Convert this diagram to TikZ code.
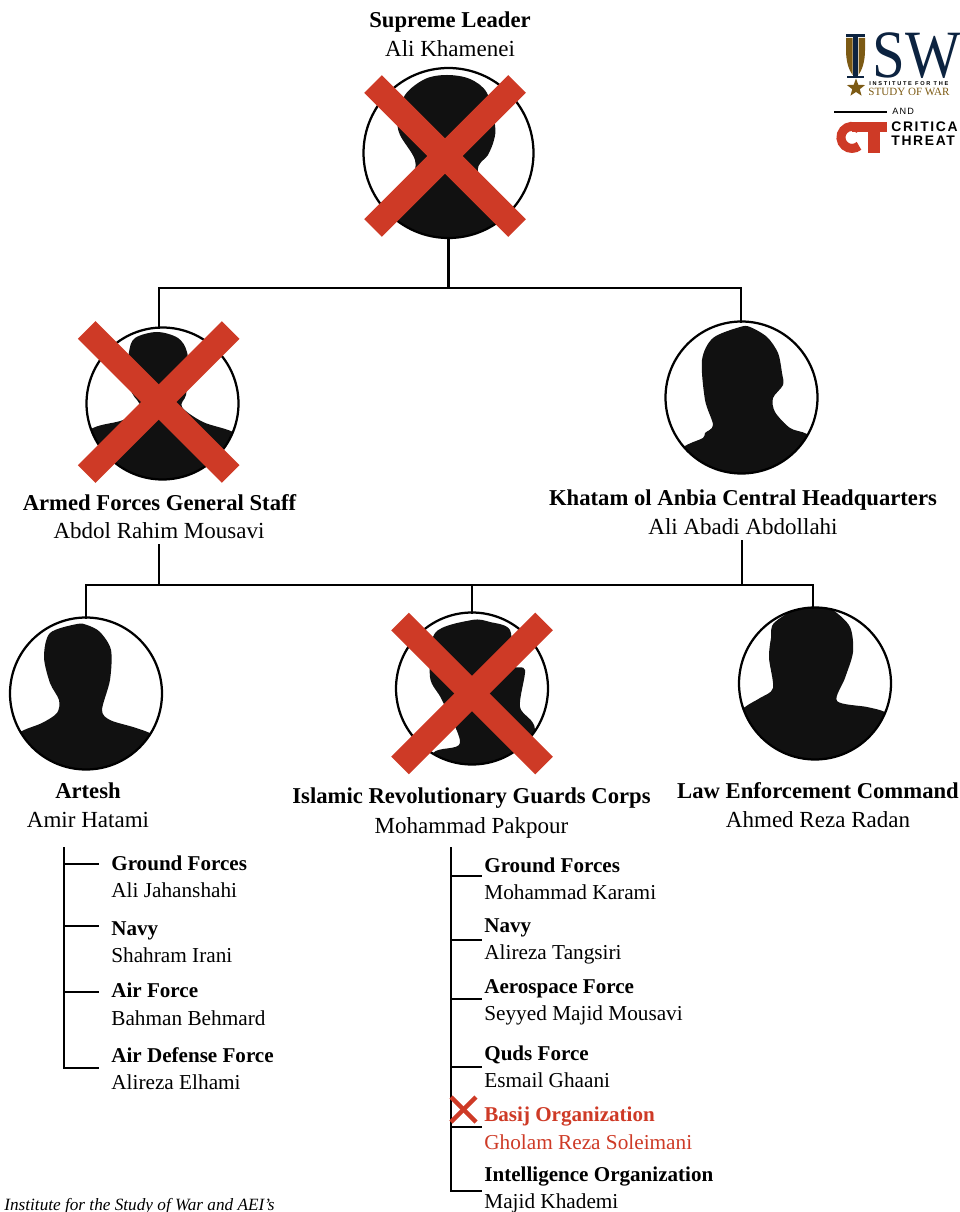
\documentclass[tikz,border=0pt]{standalone}
\usepackage{fontspec}
\usepackage{graphicx}
\setmainfont{Liberation Serif}
\newfontfamily\logosans[LetterSpace=12]{Liberation Sans}
\newfontfamily\logowide[LetterSpace=30]{Liberation Sans}
\usetikzlibrary{shapes.geometric}
\definecolor{crossred}{HTML}{CE3A26}
\definecolor{shadow}{HTML}{111111}
\definecolor{iswnavy}{HTML}{0C2340}
\definecolor{iswbrown}{HTML}{7C5A14}
\tikzset{
  portrait/.style={circle,draw=black,line width=0.045cm,minimum size=3.04cm,inner sep=0pt,outer sep=0pt},
  head/.style={font=\fontsize{12.9}{15}\selectfont\bfseries,anchor=base,inner sep=0pt},
  who/.style={font=\fontsize{13.1}{16}\selectfont,anchor=base,inner sep=0pt},
  subhead/.style={font=\fontsize{12}{15}\selectfont\bfseries,anchor=base west,inner sep=0pt},
  subwho/.style={font=\fontsize{12.1}{15}\selectfont,anchor=base west,inner sep=0pt},
  link/.style={line width=0.05cm,line cap=rect},
  redcross/.style={crossred,line width=0.5cm},
  logotext/.style={anchor=base west,inner sep=0pt}
}
\begin{document}
\begin{tikzpicture}[x=0.02cm,y=-0.02cm]
  \useasboundingbox (0,0) rectangle (959,1212);
  % Siluetas
  \begin{scope}
    \clip (448.5,153) circle (85);
    \fill[shadow] plot[smooth cycle,tension=0.55] coordinates {(447,75) (470,79) (487,93) (495,125) (494,140) (488,155) (478,172) (497,223) (515,260) (380,260) (398,220) (412,180) (415,160) (400,135) (398,120) (405,95) (425,79)};
  \end{scope}
  \begin{scope}
    \clip (162.5,403.5) circle (75.5);
    \fill[shadow] plot[smooth cycle,tension=0.55] coordinates {(157,332) (135,338) (129,352) (128,375) (132,393) (140,407) (123,420) (93,428) (60,450) (160,500) (260,450) (233,432) (203,422) (182,407) (186,395) (188,375) (187,352) (178,338)};
  \end{scope}
  \begin{scope}
    \clip (741.5,397.5) circle (75.5);
    \fill[shadow] plot[smooth cycle,tension=0.5] coordinates {(740,327) (713,338) (702,360) (705,400) (713,425) (705,433) (703,438) (685,446) (660,465) (740,500) (830,450) (807,434) (790,428) (775,412) (773,398) (783,385) (782,373) (778,353) (767,337) (750,327)};
  \end{scope}
  \begin{scope}
    \clip (86,693.5) circle (75.5);
    \fill[shadow] plot[smooth cycle,tension=0.5] coordinates {(77,624) (50,633) (44,657) (50,683) (59,700) (57,713) (42,723) (22,731) (0,745) (86,800) (175,745) (150,733) (133,727) (110,720) (102,710) (110,680) (111,650) (100,632) (87,625)};
  \end{scope}
  \begin{scope}
    \clip (815,683.5) circle (75.5);
    \fill[shadow] plot[smooth cycle,tension=0.5] coordinates {(813,600) (775,622) (771,638) (769,658) (773,688) (760,698) (745,707) (725,725) (815,790) (905,725) (885,712) (867,707) (837,701) (845,678) (853,652) (850,627) (833,610)};
  \end{scope}
  \begin{scope}
    \clip (472,688.5) circle (75.5);
    \fill[shadow] plot[smooth cycle,tension=0.5] coordinates {(472,620) (435,633) (430,677) (442,700) (460,743) (433,753) (420,790) (520,790) (535,730) (520,707) (525,670) (513,665) (510,630) (490,622)};
  \end{scope}
  % Retratos
  \node[portrait,minimum size=3.4cm] (leader) at (448.5,153) {};
  \node[portrait] (staff) at (162.5,403.5) {};
  \node[portrait] (khatam) at (741.5,397.5) {};
  \node[portrait] (artesh) at (86,693.5) {};
  \node[portrait] (irgc) at (472,688.5) {};
  \node[portrait] (police) at (815,683.5) {};
  % Cargos y nombres
  \node[head] (leaderhead) at (450,28) {Supreme Leader};
  \node[who] (leaderwho) at (450,57) {Ali Khamenei};
  \node[head] (staffhead) at (159.5,510) {Armed Forces General Staff};
  \node[who] (staffwho) at (159,538) {Abdol Rahim Mousavi};
  \node[head] (khatamhead) at (743,505) {Khatam ol Anbia Central Headquarters};
  \node[who] (khatamwho) at (743,534) {Ali Abadi Abdollahi};
  \node[head] (arteshhead) at (88,798) {Artesh};
  \node[who] (arteshwho) at (88,827) {Amir Hatami};
  \node[head] (irgchead) at (471.5,803) {Islamic Revolutionary Guards Corps};
  \node[who] (irgcwho) at (471.5,833) {Mohammad Pakpour};
  \node[head] (policehead) at (818,798) {Law Enforcement Command};
  \node[who] (policewho) at (818,827) {Ahmed Reza Radan};
  % Conectores
  \coordinate (upperbus) at (448.5,288);
  \coordinate (lowerbus) at (472,585);
  \coordinate (stafftap) at (159,328);
  \coordinate (staffout) at (159,545);
  \coordinate (khatamtap) at (741,322);
  \coordinate (khatamout) at (742,541);
  \coordinate (arteshtap) at (86,618);
  \coordinate (policetap) at (813,608);
  \draw[link] (leader.south) -- (upperbus);
  \draw[link] (stafftap) |- (upperbus) -| (khatamtap);
  \draw[link] (staffout) -- (staffout |- lowerbus);
  \draw[link] (khatamout) -- (khatamout |- lowerbus);
  \draw[link] (arteshtap) |- (lowerbus) -| (policetap);
  \draw[link] (irgc.north) -- (lowerbus);
  % Cruces
  \foreach \cx/\cy in {445/156,158.7/402,472/693.5}{
    \draw[redcross] (\cx-72,\cy-72) -- (\cx+72,\cy+72);
    \draw[redcross] (\cx+72,\cy-72) -- (\cx-72,\cy+72);
  }
  % Artesh
  \coordinate (arteshspine) at (64,848);
  \draw[link] (arteshspine) -- (64,1068);
  \foreach \y in {864,926,992,1068}{
    \coordinate (arteshtick\y) at (98,\y);
    \draw[link] (arteshspine |- arteshtick\y) -- (arteshtick\y);
  }
  \foreach \i/\ya/\yb/\ta/\tb in {1/870/897/Ground Forces/Ali Jahanshahi,2/935/962/Navy/Shahram Irani,3/997/1025/Air Force/Bahman Behmard,4/1062/1089/Air Defense Force/Alireza Elhami}{
    \node[subhead] (arteshhead\i) at (111,\ya) {\ta};
    \node[subwho] (arteshwho\i) at (111,\yb) {\tb};
  }
  % Guardia
  \coordinate (irgcspine) at (451,848);
  \draw[link] (irgcspine) -- (451,1191);
  \foreach \y in {876,940,999,1067,1127,1191}{
    \coordinate (irgctick\y) at (481,\y);
    \draw[link] (irgcspine |- irgctick\y) -- (irgctick\y);
  }
  \foreach \i/\ya/\yb/\ta/\tb/\c in {1/872/899/Ground Forces/Mohammad Karami/black,2/932/959/Navy/Alireza Tangsiri/black,3/993/1020/Aerospace Force/Seyyed Majid Mousavi/black,4/1060/1087/Quds Force/Esmail Ghaani/black,5/1121/1149/Basij Organization/Gholam Reza Soleimani/crossred,6/1181/1208/Intelligence Organization/Majid Khademi/black}{
    \node[subhead,text=\c] (irgchead\i) at (484,\ya) {\ta};
    \node[subwho,text=\c] (irgcwho\i) at (484,\yb) {\tb};
  }
  \draw[crossred,line width=0.09cm] (451,1097) -- (476,1122);
  \draw[crossred,line width=0.09cm] (476,1097) -- (451,1122);
  % Nota
  \node[logotext,font=\fontsize{9.8}{12}\selectfont\itshape] (source) at (4,1210) {Institute for the Study of War and AEI's};
  % Logos
  \fill[iswnavy] (846,34) rectangle (865,37);
  \fill[iswbrown] (846,38) -- (852.5,38) -- (852.5,75) .. controls (849,70) and (846,62) .. (846,50) -- cycle;
  \fill[iswbrown] (865,38) -- (858.5,38) -- (858.5,75) .. controls (862,70) and (865,62) .. (865,50) -- cycle;
  \fill[iswnavy] (853,34) rectangle (858,77);
  \fill[iswnavy] (847,76) rectangle (864,78);
  \node[star,star points=5,star point ratio=2.4,fill=iswbrown,inner sep=0pt,minimum size=0.38cm] (iswstar) at (856,88) {};
  \node[logotext,text=iswnavy,font=\fontsize{38.5}{40}\selectfont] (iswname) at (872,78) {\scalebox{0.87}[1]{SW}};
  \node[logotext,font=\fontsize{3.2}{4}\selectfont\bfseries\logowide] (iswtop) at (869,86) {INSTITUTE FOR THE};
  \node[logotext,text=iswbrown,font=\fontsize{6.3}{7}\selectfont] (iswstudy) at (868,96) {STUDY OF WAR};
  \node[logotext,font=\fontsize{5.2}{6}\selectfont\logosans] (iswand) at (892,115) {AND};
  \draw[line width=0.04cm] (834,112) -- (887,112);
  \draw[crossred,line width=0.18cm] (859,129) arc (-50:-310:11);
  \fill[crossred] (852,122) rectangle (887,132);
  \fill[crossred] (868,122) rectangle (880,153);
  \node[logotext,font=\fontsize{7.9}{8}\selectfont\bfseries\logosans] (ctone) at (891,132) {CRITICA};
  \node[logotext,font=\fontsize{7.9}{8}\selectfont\bfseries\logosans] (cttwo) at (891,146) {THREAT};
\end{tikzpicture}
\end{document}
